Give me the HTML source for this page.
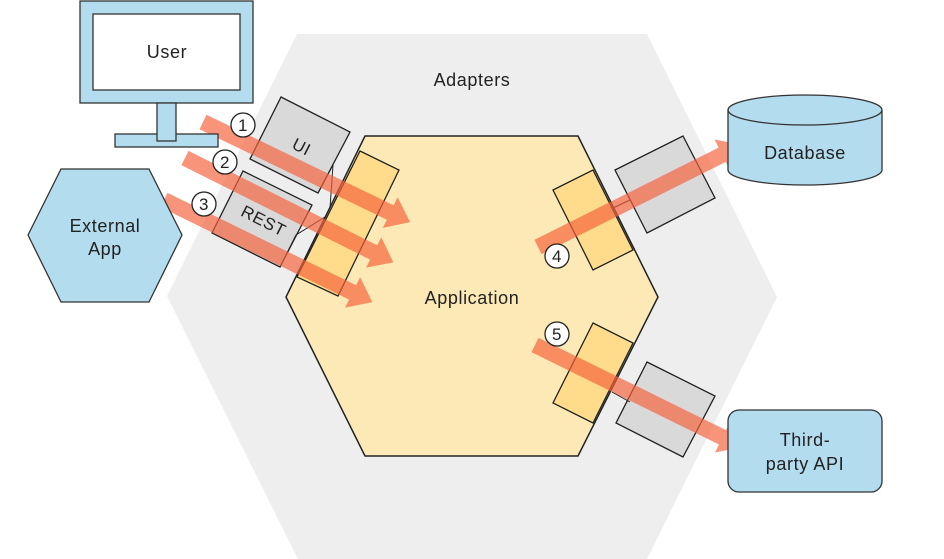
<!DOCTYPE html>
<html><head><meta charset="utf-8"><style>
html,body{margin:0;padding:0;background:#fff;}
svg{display:block;}
text{font-family:"Liberation Sans","DejaVu Sans",sans-serif;fill:#222;letter-spacing:0.6px;}
</style></head><body>
<svg width="944" height="559" viewBox="0 0 944 559" xmlns="http://www.w3.org/2000/svg">
<polygon points="297,34 647,34 777,297 647,559 298,559 167,296" fill="#eeeeee"/>
<text x="472" y="86" font-size="18" text-anchor="middle">Adapters</text>
<polygon points="365,136 578,136 658,297 578,456 365,456 286,297" fill="#fde9b5" stroke="#222" stroke-width="1.5"/>
<text x="472" y="304" font-size="18" text-anchor="middle">Application</text>
<polygon points="281,97 350,132 318,193 250,159" fill="#d9d9d9" stroke="#222" stroke-width="1.3"/>
<text x="0" y="0" font-size="17" text-anchor="middle" transform="translate(299,152) rotate(27)">UI</text>
<polygon points="243,171 312,205 280,267 212,233" fill="#d9d9d9" stroke="#222" stroke-width="1.3"/>
<text x="0" y="0" font-size="17" text-anchor="middle" transform="translate(261,226) rotate(27)">REST</text>
<polygon points="615,170 683,136 715,198 647,233" fill="#d9d9d9" stroke="#222" stroke-width="1.3"/>
<polygon points="647,362 715,396 683,457 616,423" fill="#d9d9d9" stroke="#222" stroke-width="1.3"/>
<g stroke="#222" stroke-width="1" fill="none">
<polyline points="318,193 333,165 330,208"/>
<polyline points="280,267 296,235 325,217"/>
<line x1="613" y1="208" x2="630" y2="200"/>
<line x1="612" y1="392" x2="630" y2="402"/>
</g>
<polygon points="360,151 399,170 338,296 297,277" fill="#fedc8b" stroke="#222" stroke-width="1.3"/>
<polygon points="553,190 593,170 633,250 593,270" fill="#fedc8b" stroke="#222" stroke-width="1.3"/>
<polygon points="593,323 633,343 593,423 553,403" fill="#fedc8b" stroke="#222" stroke-width="1.3"/>
<g fill="#f4623a" fill-opacity="0.68">
<g transform="translate(203,122) rotate(25.8)"><polygon points="0,-8 208,-8 208,-17 230,0 208,17 208,8 0,8"/></g>
<g transform="translate(185,158) rotate(26.6)"><polygon points="0,-8 211,-8 211,-17 233,0 211,17 211,8 0,8"/></g>
<g transform="translate(164,200) rotate(26.1)"><polygon points="0,-8 210,-8 210,-17 232,0 210,17 210,8 0,8"/></g>
<g transform="translate(538,247) rotate(-26.6)"><polygon points="0,-8 206,-8 206,-17 228,0 206,17 206,8 0,8"/></g>
<g transform="translate(535,345) rotate(26.2)"><polygon points="0,-8 209,-8 209,-17 231,0 209,17 209,8 0,8"/></g>
</g>
<g stroke="#222" stroke-width="1.3" fill="#fff">
<circle cx="243" cy="125" r="12"/><circle cx="225" cy="162" r="12"/><circle cx="204" cy="204" r="12"/>
<circle cx="557" cy="256" r="12"/><circle cx="557" cy="334" r="12"/>
</g>
<g font-size="17" text-anchor="middle">
<text x="243" y="131">1</text><text x="225" y="168">2</text><text x="204" y="210">3</text>
<text x="557" y="262">4</text><text x="557" y="340">5</text>
</g>
<rect x="80" y="1" width="173" height="102" fill="#b3dcef" stroke="#333" stroke-width="1.3"/>
<rect x="93" y="14" width="147" height="76" fill="#fff" stroke="#333" stroke-width="1.3"/>
<rect x="115" y="134" width="103" height="13" fill="#b3dcef" stroke="#333" stroke-width="1.3"/>
<rect x="157" y="103" width="19" height="38" fill="#b3dcef" stroke="#333" stroke-width="1.3"/>
<text x="167" y="58" font-size="18" text-anchor="middle">User</text>
<polygon points="28,235 61,169 149,169 182,235 149,302 61,302" fill="#b3dcef" stroke="#333" stroke-width="1.3"/>
<text x="105" y="232" font-size="18" text-anchor="middle">External</text>
<text x="105" y="255" font-size="18" text-anchor="middle">App</text>
<path d="M728,110 L728,170 A77,15 0 0 0 882,170 L882,110" fill="#b3dcef" stroke="#333" stroke-width="1.3"/>
<ellipse cx="805" cy="110" rx="77" ry="15" fill="#b3dcef" stroke="#333" stroke-width="1.3"/>
<text x="805" y="159" font-size="18" text-anchor="middle">Database</text>
<rect x="728" y="410" width="154" height="82" rx="11" fill="#b3dcef" stroke="#333" stroke-width="1.3"/>
<text x="805" y="446" font-size="18" text-anchor="middle">Third-</text>
<text x="805" y="470" font-size="18" text-anchor="middle">party API</text>
</svg>
</body></html>
